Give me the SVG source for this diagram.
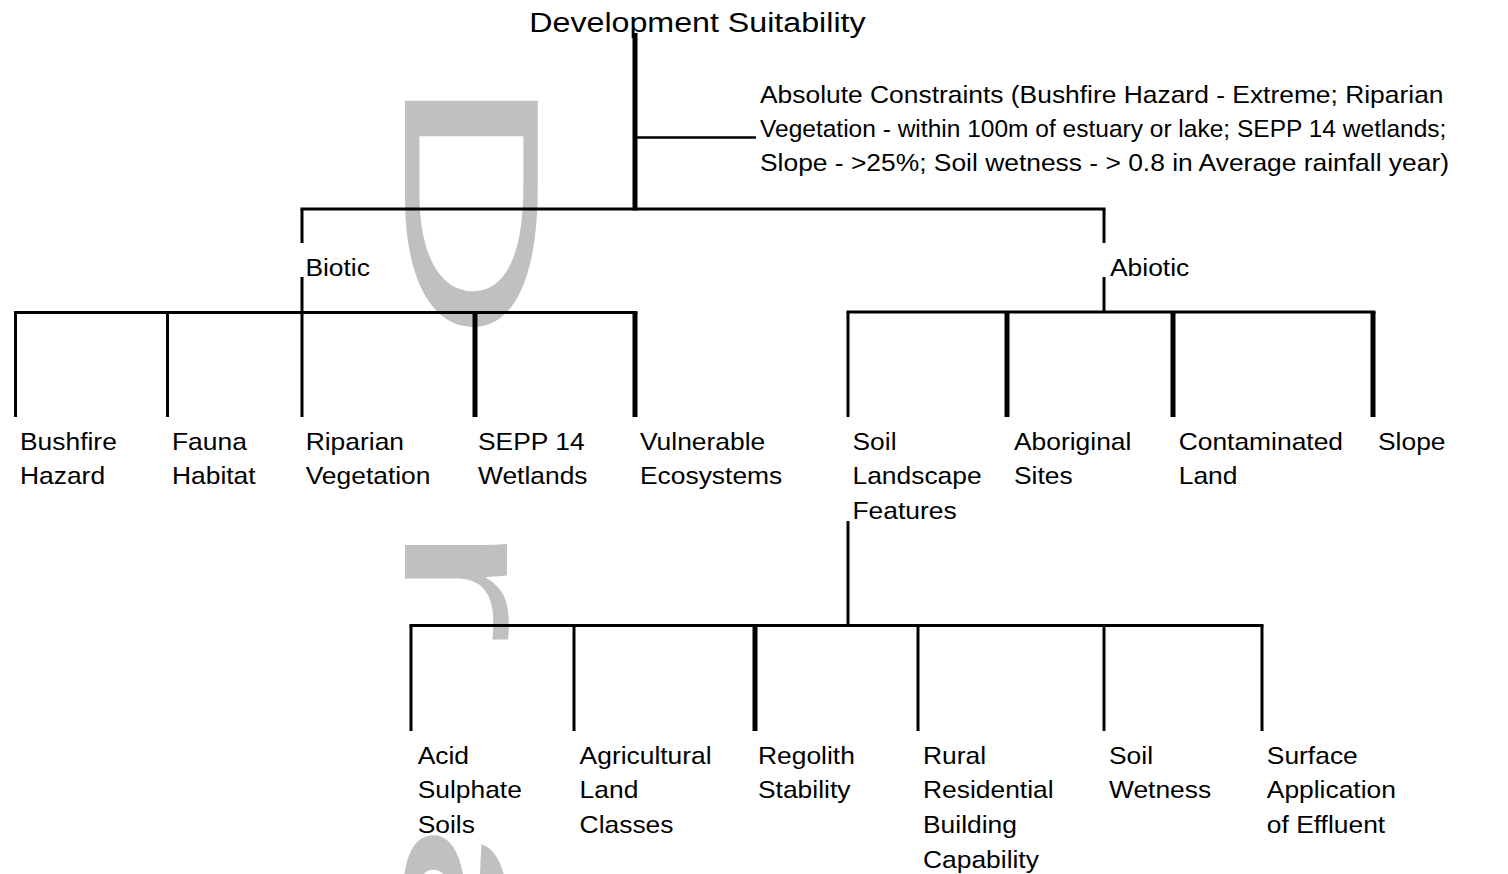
<svg xmlns="http://www.w3.org/2000/svg" width="1508" height="874" viewBox="0 0 1508 874">
<style>
text{font-family:"Liberation Sans",Arial,Helvetica,sans-serif;fill:#000}
.lbl{font-size:24px}
.title{font-size:28px}
.wm{font-size:193px;fill:#c0c0c0;letter-spacing:87.5px}
.c{stroke:#000;stroke-width:3;fill:none}
.k{stroke:#000;stroke-width:5;fill:none}
.t{stroke:#000;stroke-width:2.5;fill:none}
</style>
<rect width="1508" height="874" fill="#fff"/>
<g id="watermark"><text class="wm" x="35" y="0" transform="translate(405,0) rotate(90) scale(1.98,1)">Draft</text></g>
<g id="connectors">
<line class="k" x1="635" y1="33" x2="635" y2="210.5"/>
<line class="t" x1="637" y1="137.5" x2="756" y2="137.5"/>
<line class="c" x1="300.5" y1="209" x2="1105.5" y2="209"/>
<line class="c" x1="302" y1="209" x2="302" y2="243"/>
<line class="c" x1="302" y1="277" x2="302" y2="312"/>
<line class="c" x1="1104" y1="209" x2="1104" y2="243"/>
<line class="c" x1="1104" y1="277" x2="1104" y2="312"/>
<line class="c" x1="14" y1="312.5" x2="637.5" y2="312.5"/>
<line class="c" x1="15.5" y1="312.5" x2="15.5" y2="417"/>
<line class="c" x1="167.5" y1="312.5" x2="167.5" y2="417"/>
<line class="c" x1="302" y1="312.5" x2="302" y2="417"/>
<line class="k" x1="475" y1="312.5" x2="475" y2="417"/>
<line class="k" x1="635" y1="312.5" x2="635" y2="417"/>
<line class="c" x1="846.5" y1="312" x2="1375.5" y2="312"/>
<line class="c" x1="848" y1="312" x2="848" y2="417"/>
<line class="k" x1="1007" y1="312" x2="1007" y2="417"/>
<line class="k" x1="1173" y1="312" x2="1173" y2="417"/>
<line class="k" x1="1373" y1="312" x2="1373" y2="417"/>
<line class="c" x1="848" y1="521" x2="848" y2="626"/>
<line class="c" x1="409.5" y1="625.5" x2="1263.5" y2="625.5"/>
<line class="c" x1="411" y1="625.5" x2="411" y2="731"/>
<line class="c" x1="574" y1="625.5" x2="574" y2="731"/>
<line class="k" x1="755" y1="625.5" x2="755" y2="731"/>
<line class="c" x1="918" y1="625.5" x2="918" y2="731"/>
<line class="c" x1="1104" y1="625.5" x2="1104" y2="731"/>
<line class="c" x1="1262" y1="625.5" x2="1262" y2="731"/>
</g>
<g id="n-root"><text class="title" transform="translate(529.3,32) scale(1.15,1)">Development Suitability</text></g>
<g id="n-absolute"><text class="lbl" transform="translate(760,102.5) scale(1.1,1)"><tspan x="0" y="0">Absolute Constraints (Bushfire Hazard - Extreme; Riparian</tspan><tspan x="0" y="34.5" textLength="624" lengthAdjust="spacingAndGlyphs">Vegetation - within 100m of estuary or lake; SEPP 14 wetlands;</tspan><tspan x="0" y="69">Slope - &gt;25%; Soil wetness - &gt; 0.8 in Average rainfall year)</tspan></text></g>
<g id="n-biotic"><text class="lbl" transform="translate(305.4,275.5) scale(1.1,1)">Biotic</text></g>
<g id="n-abiotic"><text class="lbl" transform="translate(1110,275.5) scale(1.1,1)">Abiotic</text></g>
<g id="n-bushfire"><text class="lbl" transform="translate(20,449.5) scale(1.1,1)"><tspan x="0" y="0">Bushfire</tspan><tspan x="0" y="35">Hazard</tspan></text></g>
<g id="n-fauna"><text class="lbl" transform="translate(172,449.5) scale(1.1,1)"><tspan x="0" y="0">Fauna</tspan><tspan x="0" y="35">Habitat</tspan></text></g>
<g id="n-riparian"><text class="lbl" transform="translate(305.7,449.5) scale(1.1,1)"><tspan x="0" y="0">Riparian</tspan><tspan x="0" y="35">Vegetation</tspan></text></g>
<g id="n-sepp"><text class="lbl" transform="translate(478,449.5) scale(1.1,1)"><tspan x="0" y="0">SEPP 14</tspan><tspan x="0" y="35">Wetlands</tspan></text></g>
<g id="n-vulnerable"><text class="lbl" transform="translate(640,449.5) scale(1.1,1)"><tspan x="0" y="0">Vulnerable</tspan><tspan x="0" y="35">Ecosystems</tspan></text></g>
<g id="n-soil-landscape"><text class="lbl" transform="translate(852.5,449.5) scale(1.1,1)"><tspan x="0" y="0">Soil</tspan><tspan x="0" y="35">Landscape</tspan><tspan x="0" y="70">Features</tspan></text></g>
<g id="n-aboriginal"><text class="lbl" transform="translate(1014,449.5) scale(1.1,1)"><tspan x="0" y="0">Aboriginal</tspan><tspan x="0" y="35">Sites</tspan></text></g>
<g id="n-contaminated"><text class="lbl" transform="translate(1178.7,449.5) scale(1.1,1)"><tspan x="0" y="0">Contaminated</tspan><tspan x="0" y="35">Land</tspan></text></g>
<g id="n-slope"><text class="lbl" transform="translate(1378,449.5) scale(1.1,1)">Slope</text></g>
<g id="n-acid"><text class="lbl" transform="translate(417.7,763.5) scale(1.1,1)"><tspan x="0" y="0">Acid</tspan><tspan x="0" y="35">Sulphate</tspan><tspan x="0" y="70">Soils</tspan></text></g>
<g id="n-agricultural"><text class="lbl" transform="translate(579.6,763.5) scale(1.1,1)"><tspan x="0" y="0">Agricultural</tspan><tspan x="0" y="35">Land</tspan><tspan x="0" y="70">Classes</tspan></text></g>
<g id="n-regolith"><text class="lbl" transform="translate(758,763.5) scale(1.1,1)"><tspan x="0" y="0">Regolith</tspan><tspan x="0" y="35">Stability</tspan></text></g>
<g id="n-rural"><text class="lbl" transform="translate(923,763.5) scale(1.1,1)"><tspan x="0" y="0">Rural</tspan><tspan x="0" y="35">Residential</tspan><tspan x="0" y="70">Building</tspan><tspan x="0" y="105">Capability</tspan></text></g>
<g id="n-wetness"><text class="lbl" transform="translate(1109,763.5) scale(1.1,1)"><tspan x="0" y="0">Soil</tspan><tspan x="0" y="35">Wetness</tspan></text></g>
<g id="n-effluent"><text class="lbl" transform="translate(1266.8,763.5) scale(1.1,1)"><tspan x="0" y="0">Surface</tspan><tspan x="0" y="35">Application</tspan><tspan x="0" y="70">of Effluent</tspan></text></g>
</svg>
